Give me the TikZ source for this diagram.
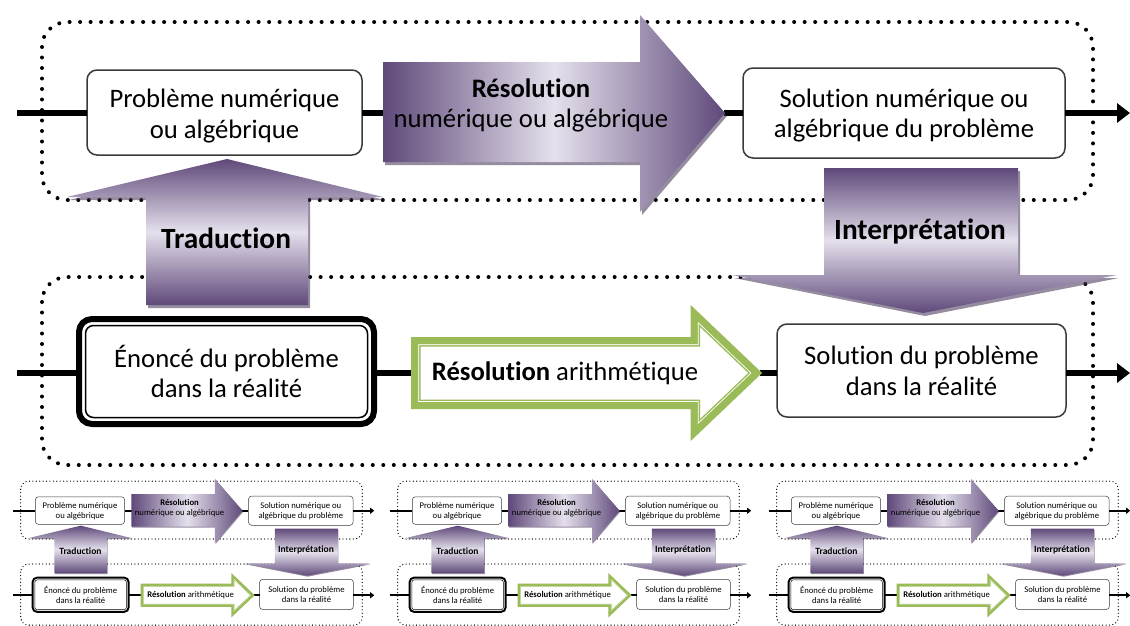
\documentclass[tikz,border=0pt]{standalone}
\usepackage{fontspec}
\setmainfont{Carlito}[Ligatures=NoCommon]
\usetikzlibrary{arrows.meta}
\definecolor{pdark}{HTML}{5F497A}
\definecolor{plight}{HTML}{E5E0EC}
\definecolor{pshadow}{HTML}{3F3151}
\definecolor{gborder}{HTML}{9BBB59}
\definecolor{boxline}{HTML}{3A3A3A}
\tikzset{
  dotframe/.style={line width=\dotw, dash pattern=on 0pt off \dotgap, line cap=round, rounded corners=\rcA},
  pbox/.style={draw=boxline, line width=\lwbox, rounded corners=\rcB, fill=white, align=center,
    inner sep=0pt, outer sep=0pt, font=\fontsize{\fA}{\fAb}\selectfont},
  ebox/.style={draw=black, line width=\lwe, rounded corners=\rcC, fill=white, align=center,
    inner sep=0pt, outer sep=0pt, font=\fontsize{\fA}{\fAb}\selectfont},
  conn/.style={line width=\lwc},
  connarrow/.style={line width=\lwc, -{Triangle[length=\alen, width=\awid]}},
  atext/.style={align=center, inner sep=0pt, font=\fontsize{\fA}{\fAb}\selectfont},
  btext/.style={align=center, inner sep=0pt, font=\fontsize{\fB}{\fBb}\selectfont\bfseries},
  hshade/.style={left color=pdark, right color=pdark, middle color=plight},
  vshade/.style={top color=pdark, bottom color=pdark, middle color=plight},
  pshad/.style={fill=pshadow, opacity=.55}
}
\newcommand\drawdiag[4]{%
\begin{scope}[shift={(#3*0.75pt,-#4*0.75pt)}]
\pgfmathsetlengthmacro\px{#2*0.75pt}%
\pgfmathsetlengthmacro\dotw{4*\px}%
\pgfmathsetlengthmacro\dotgap{10.5*\px}%
\pgfmathsetlengthmacro\rcA{25*\px}%
\pgfmathsetlengthmacro\rcB{10*\px}%
\pgfmathsetlengthmacro\rcC{13*\px}%
\pgfmathsetlengthmacro\lwbox{1.5*\px}%
\pgfmathsetlengthmacro\lwe{6*\px}%
\pgfmathsetlengthmacro\lwc{6*\px}%
\pgfmathsetlengthmacro\alen{13*\px}%
\pgfmathsetlengthmacro\awid{19*\px}%
\pgfmathsetlengthmacro\fA{20pt*#2}%
\pgfmathsetlengthmacro\fAb{23pt*#2}%
\pgfmathsetlengthmacro\fB{22pt*#2}%
\pgfmathsetlengthmacro\fBb{26pt*#2}%
\begin{scope}[x=\px,y=\px]
% dotted containers
\draw[dotframe] (42,-22) rectangle (1093,-200);
\draw[dotframe] (42,-277) rectangle (1093,-465);
% free ends of the lines
\coordinate (#1tl) at (17,-113);
\coordinate (#1tr) at (1130,-113);
\coordinate (#1bl) at (17,-373);
\coordinate (#1br) at (1130,-373);
\coordinate (#1rT) at (384,-113);
\coordinate (#1rH) at (724,-113);
\coordinate (#1gT) at (412,-373);
\coordinate (#1gH) at (760,-373);
% boxes
\node[pbox, minimum width=275*\px, minimum height=85*\px] (#1b1) at (224.5,-112.5) {};
\node[atext] (#1b1t) at (224.5,-116) {Problème numérique\\ou algébrique};
\node[pbox, minimum width=322*\px, minimum height=90*\px] (#1b3) at (904,-113) {};
\node[atext] (#1b3t) at (904,-115.5) {Solution numérique ou\\algébrique du problème};
\node[pbox, minimum width=289*\px, minimum height=93*\px] (#1sol) at (921.5,-370.5) {Solution du problème\\dans la réalité};
\node[ebox, minimum width=295*\px, minimum height=105*\px] (#1en) at (226.5,-371.5) {Énoncé du problème\\dans la réalité};
\draw[line width=1.5*\px, rounded corners=8*\px] ([shift={(6.5,6.5)}]#1en.south west) rectangle ([shift={(-6.5,-6.5)}]#1en.north east);
% connectors
\draw[conn] (#1tl) -- (#1tl -| #1b1.west);
\draw[conn] (#1b1.east |- #1tl) -- (#1rT);
\draw[conn] (#1rH) -- (#1rH -| #1b3.west);
\draw[connarrow] (#1b3.east |- #1tl) -- (#1tr);
\draw[conn] (#1bl) -- (#1bl -| #1en.west);
\draw[conn] (#1en.east |- #1bl) -- (#1gT);
\draw[conn] (#1gH) -- (#1gH -| #1sol.west);
\draw[connarrow] (#1sol.east |- #1bl) -- (#1br);
% purple block arrows
\def\resA{(383,-62) -- (640,-62) -- (640,-15) -- (725,-113) -- (640,-212) -- (640,-162) -- (383,-162) -- cycle}%
\def\traA{(146,-305) -- (146,-197) -- (67,-197) -- (227,-159) -- (383,-197) -- (308,-197) -- (308,-305) -- cycle}%
\def\intA{(824,-168) -- (1018,-168) -- (1018,-275) -- (1117,-275) -- (923,-313) -- (732,-275) -- (824,-275) -- cycle}%
\fill[pshad, shift={(2,-3)}] \resA;
\path[hshade] \resA;
\fill[pshad, shift={(2,-3)}] \traA;
\path[vshade] \traA;
\fill[pshad, shift={(2,-3)}] \intA;
\path[vshade] \intA;
\node[atext] (#1res) at (531,-105.5) {\textbf{Résolution}\\numérique ou algébrique};
\node[btext] (#1tra) at (226,-238) {Traduction};
\node[btext] (#1int) at (920,-232) {Interprétation};
% green block arrow
\def\grA{(414.5,-340.5) -- (694,-340.5) -- (694,-313) -- (757,-373) -- (694,-433) -- (694,-405.5) -- (414.5,-405.5) -- cycle}%
\fill[white] \grA;
\begin{scope}
\clip \grA;
\draw[gborder, line width=12*\px] \grA;
\draw[white, line width=9*\px] \grA;
\draw[gborder, line width=7*\px] \grA;
\end{scope}
\draw[gborder, line width=7*\px, line join=miter] \grA;
\node[atext] (#1gres) at (565,-373) {\textbf{Résolution} arithmétique};
\end{scope}
\end{scope}}
\begin{document}
\begin{tikzpicture}
\useasboundingbox (0,0) rectangle (847.5pt,-468.75pt);
\fill[white] (0,0) rectangle (847.5pt,-468.75pt);
\clip (0,0) rectangle (847.5pt,-468.75pt);
\drawdiag{m}{1}{0}{0}
\drawdiag{ca}{0.325}{7}{474}
\drawdiag{cb}{0.325}{384}{474}
\drawdiag{cc}{0.325}{763}{474}
\end{tikzpicture}
\end{document}
